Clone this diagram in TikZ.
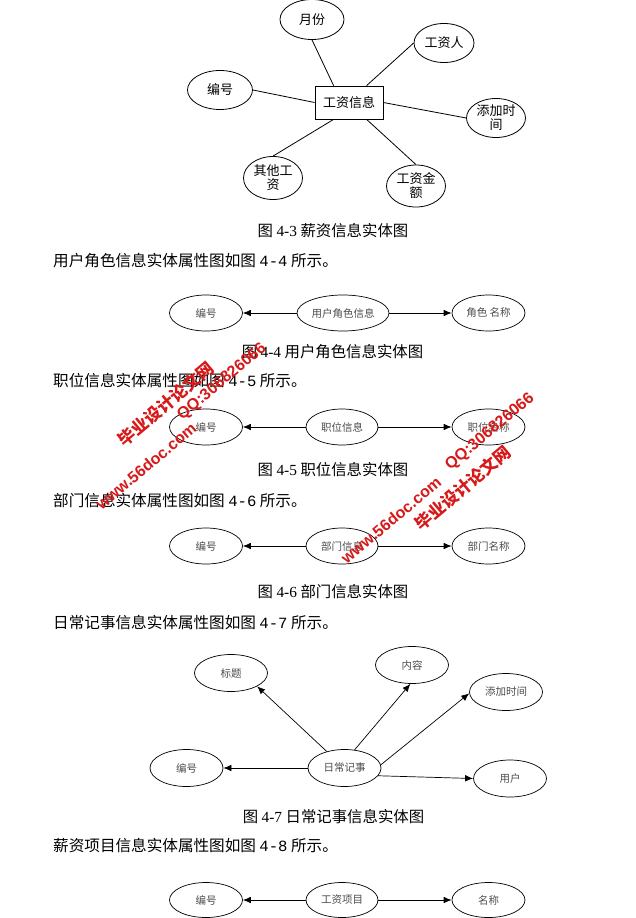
\documentclass[tikz,border=0pt]{standalone}
\usepackage{fontspec}
\newfontfamily\cjk{Noto Sans CJK SC}
\newfontfamily\tms{Liberation Serif}
\newfontfamily\mono{Liberation Mono}
\newfontfamily\wmfont{Liberation Sans}
\usetikzlibrary{shapes.geometric,arrows.meta,calc}
\definecolor{wmred}{RGB}{215,25,25}
\begin{document}
\begin{tikzpicture}[x=1pt,y=-1pt,
  attr/.style={ellipse,draw,line width=0.7pt,inner sep=0pt,minimum width=73pt,minimum height=36pt,font=\fontsize{10.5}{12}\cjk,text=black!70},
  big/.style={ellipse,draw,line width=0.8pt,inner sep=0pt,font=\fontsize{13}{14}\cjk,align=center},
  figcap/.style={inner sep=0pt,font=\fontsize{15.4}{17}\cjk},
  para/.style={anchor=west,inner sep=0pt,font=\fontsize{15.6}{17}\cjk},
  arr/.style={-{Latex[length=8pt,width=6.5pt]},line width=0.7pt},
  link/.style={line width=0.8pt},
  wm/.style={text=wmred,rotate=40,inner sep=0pt},
  wmcn/.style={wm,font=\fontsize{17}{18}\cjk\bfseries},
  wmla/.style={wm,font=\fontsize{16}{18}\wmfont\bfseries}]
\useasboundingbox[fill=white] (0,0) rectangle (636,918);

% ---------- Figure 4-3 ----------
\node[draw,line width=0.8pt,minimum width=68pt,minimum height=33pt,inner sep=0pt,font=\fontsize{13}{15}\cjk] (r) at (349,102.5) {工资信息};
\node[big,minimum width=64pt,minimum height=40pt] (m) at (312,19.5) {月份};
\node[big,minimum width=60pt,minimum height=39pt] (g) at (444,43) {工资人};
\node[big,minimum width=65pt,minimum height=39pt] (bh) at (220,90) {编号};
\node[big,minimum width=59pt,minimum height=39pt] (tj) at (496,118) {添加时\\间};
\node[big,minimum width=59pt,minimum height=43pt] (qt) at (273,178) {其他工\\资};
\node[big,minimum width=59pt,minimum height=42pt] (je) at (416,186) {工资金\\额};
\coordinate (r1) at ($(r.north west)+(19,0)$);
\coordinate (r2) at ($(r.north west)+(52,0)$);
\coordinate (r3) at ($(r.south west)+(19,0)$);
\coordinate (r4) at ($(r.south west)+(52,0)$);
\draw[link] (m.south) -- (r1);
\draw[link] (g.west) -- (r2);
\draw[link] (bh.east) -- (r.west);
\draw[link] (tj.west) -- (r.east);
\draw[link] (qt.north) -- (r3);
\draw[link] (je.north) -- (r4);
\node[figcap] (cap3) at (333,231) {图 {\tms 4-3} 薪资信息实体图};

% ---------- Figure 4-4 ----------
\node[para] (p4) at (53,261) {用户角色信息实体属性图如图 {\mono 4-4} 所示。};
\node[attr] (b4) at (206,313) {编号};
\node[attr,minimum width=92pt] (c4) at (343,313) {用户角色信息};
\node[attr] (n4) at (488.5,313) {角色 名称};
\draw[arr] (c4) -- (b4);
\draw[arr] (c4) -- (n4);
\node[figcap] (cap4) at (332.5,352) {图 {\tms 4-4} 用户角色信息实体图};

% ---------- Figure 4-5 ----------
\node[para] (p5) at (53,380.5) {职位信息实体属性图如图 {\mono 4-5} 所示。};
\node[attr] (b5) at (206,427) {编号};
\node[attr,minimum width=72pt] (c5) at (342,427) {职位信息};
\node[attr] (n5) at (488.5,427) {职位名称};
\draw[arr] (c5) -- (b5);
\draw[arr] (c5) -- (n5);
\node[figcap] (cap5) at (333,470) {图 {\tms 4-5} 职位信息实体图};

% ---------- Figure 4-6 ----------
\node[para] (p6) at (53,501) {部门信息实体属性图如图 {\mono 4-6} 所示。};
\node[attr] (b6) at (206,546) {编号};
\node[attr,minimum width=72pt] (c6) at (342,546) {部门信息};
\node[attr] (n6) at (488.5,546) {部门名称};
\draw[arr] (c6) -- (b6);
\draw[arr] (c6) -- (n6);
\node[figcap] (cap6) at (333,592) {图 {\tms 4-6} 部门信息实体图};

% ---------- Figure 4-7 ----------
\node[para] (p7) at (53,623) {日常记事信息实体属性图如图 {\mono 4-7} 所示。};
\node[attr,minimum height=37pt] (t7) at (231,673) {标题};
\node[attr,minimum height=37pt] (c7) at (412,665) {内容};
\node[attr,minimum height=37pt] (a7) at (506,692) {添加时间};
\node[attr,minimum height=37pt] (b7) at (186.5,768) {编号};
\node[attr,minimum height=37pt] (d7) at (344.5,768) {日常记事};
\node[attr,minimum height=37pt] (u7) at (510,778.5) {用户};
\draw[arr] (d7.137) -- (t7.-27);
\draw[arr] (d7.61) -- (c7.-95);
\draw[arr] (d7.5) -- (a7.182);
\draw[arr] (d7.west) -- (b7.east);
\draw[arr] (d7.-13) -- (u7.west);
\node[figcap] (cap7) at (333.5,817) {图 {\tms 4-7} 日常记事信息实体图};

% ---------- Figure 4-8 ----------
\node[para] (p8) at (53,846) {薪资项目信息实体属性图如图 {\mono 4-8} 所示。};
\node[attr,minimum height=35pt] (b8) at (206,900) {编号};
\node[attr,minimum width=72pt,minimum height=35pt] (c8) at (342,900) {工资项目};
\node[attr,minimum height=35pt] (n8) at (488.5,900) {名称};
\draw[arr] (c8) -- (b8);
\draw[arr] (c8) -- (n8);

% ---------- watermarks ----------
\node[wmcn] (w1) at (166,404) {毕业设计论文网};
\node[wmla] (w2) at (222,382) {QQ:306826066};
\node[wmla] (w3) at (146,466) {www.56doc.com};
\node[wmla] (w4) at (490,432) {QQ:306826066};
\node[wmla] (w5) at (391,520) {www.56doc.com};
\node[wmcn] (w6) at (463,488) {毕业设计论文网};
\end{tikzpicture}
\end{document}
